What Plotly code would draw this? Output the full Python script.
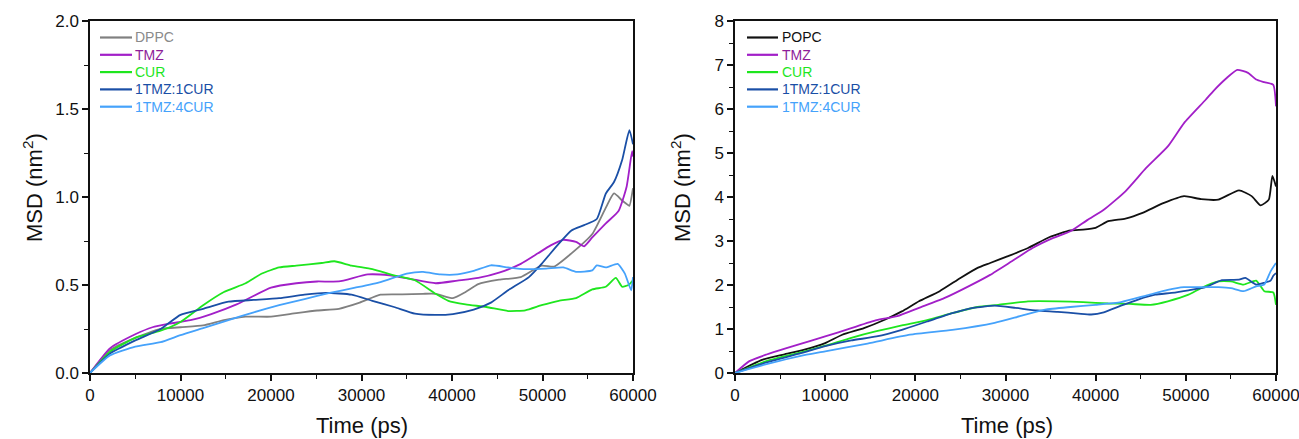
import plotly.graph_objects as go

# ---- Left panel: DPPC membrane systems ----
dppc_t = [0, 2200, 5000, 7800, 10000, 12500, 14800, 17200, 20000, 22800, 25100, 27500,
          29800, 32100, 34500, 36800, 38200, 40100, 41500, 42900, 45200, 47600, 49900,
          51300, 53200, 55500, 57000, 57900, 58800, 59300, 59600, 60000]
dppc_msd = [0, 0.13, 0.20, 0.25, 0.26, 0.27, 0.30, 0.32, 0.32, 0.34, 0.355, 0.365,
            0.40, 0.445, 0.447, 0.45, 0.45, 0.425, 0.46, 0.505, 0.53, 0.545, 0.61,
            0.605, 0.68, 0.79, 0.94, 1.02, 0.98, 0.96, 0.95, 1.05]

tmz_l_t = [0, 2200, 5000, 6900, 8750, 11100, 13400, 16200, 20000, 22800, 25100, 27500,
           30700, 33100, 35400, 38200, 40600, 42900, 45200, 47600, 49500, 50900, 52300,
           53700, 54600, 55500, 57000, 58400, 59300, 59900, 60000]
tmz_l_msd = [0, 0.14, 0.22, 0.26, 0.28, 0.30, 0.335, 0.39, 0.485, 0.51, 0.52, 0.52,
             0.56, 0.555, 0.535, 0.51, 0.525, 0.54, 0.57, 0.62, 0.68, 0.725, 0.757,
             0.745, 0.72, 0.77, 0.85, 0.92, 1.06, 1.26, 1.23]

cur_l_t = [0, 2200, 5000, 7800, 10000, 12500, 14800, 17200, 19000, 20900, 22800, 25600,
           27000, 28900, 31200, 33600, 35900, 38200, 39600, 41500, 43800, 46200, 48100,
           49900, 51800, 53700, 55500, 57000, 58100, 58800, 59500, 60000]
cur_l_msd = [0, 0.12, 0.20, 0.24, 0.29, 0.385, 0.46, 0.51, 0.565, 0.60, 0.61, 0.625,
             0.635, 0.61, 0.59, 0.555, 0.527, 0.45, 0.41, 0.39, 0.375, 0.352, 0.356,
             0.385, 0.41, 0.425, 0.475, 0.49, 0.54, 0.49, 0.50, 0.527]

c11_l_t = [0, 2200, 5000, 7800, 10000, 12500, 15300, 18100, 20900, 23700, 26100, 28900,
           31200, 33600, 35900, 38200, 40100, 42400, 44300, 46200, 48500, 49900, 51800,
           53200, 54600, 56000, 57000, 57900, 58800, 59600, 60000]
c11_l_msd = [0, 0.11, 0.185, 0.25, 0.33, 0.365, 0.405, 0.415, 0.425, 0.445, 0.455, 0.445,
             0.41, 0.375, 0.337, 0.33, 0.335, 0.36, 0.40, 0.47, 0.545, 0.62, 0.735,
             0.81, 0.84, 0.875, 1.02, 1.085, 1.21, 1.38, 1.30]

c14_l_t = [0, 2200, 5000, 7800, 10000, 12500, 15300, 18100, 20900, 23700, 26500, 29300,
           32100, 35000, 36800, 38700, 40600, 42400, 44300, 46200, 48100, 50400, 52300,
           53700, 55500, 56000, 57000, 58300, 59100, 59800, 60000]
c14_l_msd = [0, 0.10, 0.15, 0.175, 0.215, 0.255, 0.30, 0.345, 0.385, 0.42, 0.455, 0.485,
             0.517, 0.565, 0.575, 0.56, 0.56, 0.58, 0.612, 0.60, 0.59, 0.593, 0.60,
             0.575, 0.583, 0.612, 0.60, 0.62, 0.565, 0.47, 0.545]

# ---- Right panel: POPC membrane systems ----
popc_t = [0, 3000, 5400, 7700, 10000, 11900, 14300, 16600, 18500, 20400, 22700, 25000,
          26900, 28300, 30200, 32500, 34900, 37200, 38600, 40000, 41400, 43300, 45200,
          47500, 49800, 51700, 53600, 55900, 57300, 58300, 59200, 59600, 60000]
popc_msd = [0, 0.30, 0.42, 0.53, 0.68, 0.87, 1.02, 1.21, 1.40, 1.63, 1.86, 2.16,
            2.39, 2.50, 2.65, 2.84, 3.09, 3.24, 3.26, 3.30, 3.45, 3.51, 3.64,
            3.86, 4.02, 3.95, 3.94, 4.15, 4.02, 3.81, 3.94, 4.48, 4.24]

tmz_r_t = [0, 1600, 3500, 5800, 8200, 10000, 12900, 15700, 18000, 20400, 23200, 26000,
           28300, 30700, 33000, 35300, 37200, 39100, 40900, 43300, 45600, 48000, 49800,
           52200, 53100, 54500, 55700, 56900, 57800, 58700, 59700, 60000]
tmz_r_msd = [0, 0.27, 0.42, 0.57, 0.72, 0.83, 1.02, 1.20, 1.29, 1.48, 1.70, 1.98,
             2.23, 2.54, 2.84, 3.07, 3.22, 3.48, 3.71, 4.13, 4.66, 5.15, 5.68,
             6.21, 6.42, 6.70, 6.89, 6.82, 6.67, 6.61, 6.55, 6.06]

cur_r_t = [0, 3500, 7300, 10000, 12900, 15700, 18500, 21300, 24100, 26900, 29200, 32500,
           35800, 38600, 41400, 43800, 46100, 48000, 50300, 51700, 53600, 55000, 56400,
           57800, 58700, 59700, 60000]
cur_r_msd = [0, 0.27, 0.47, 0.62, 0.80, 0.95, 1.08, 1.20, 1.36, 1.50, 1.55, 1.63,
             1.63, 1.61, 1.58, 1.57, 1.55, 1.63, 1.78, 1.93, 2.08, 2.08, 2.01,
             2.10, 1.86, 1.83, 1.55]

c11_r_t = [0, 3500, 7300, 10000, 12900, 15700, 18500, 21300, 24100, 26400, 28800, 31100,
           33500, 35800, 38100, 39500, 40900, 42800, 44700, 46600, 48400, 50300, 52200,
           54000, 55900, 56600, 57800, 58700, 59400, 59700, 60000]
c11_r_msd = [0, 0.24, 0.45, 0.61, 0.74, 0.83, 0.98, 1.17, 1.36, 1.48, 1.53, 1.48,
             1.42, 1.39, 1.35, 1.33, 1.38, 1.53, 1.67, 1.78, 1.82, 1.88, 1.95,
             2.11, 2.12, 2.16, 2.01, 2.05, 2.10, 2.21, 2.27]

c14_r_t = [0, 3500, 7300, 10000, 14700, 19400, 24100, 28800, 31600, 34400, 37200, 40000,
           42800, 45600, 48000, 49800, 51700, 53600, 55000, 56400, 57800, 58700, 59400,
           60000]
c14_r_msd = [0, 0.20, 0.39, 0.49, 0.67, 0.87, 0.98, 1.14, 1.29, 1.44, 1.50, 1.55,
             1.61, 1.76, 1.89, 1.95, 1.95, 1.95, 1.93, 1.86, 1.97, 2.01, 2.31,
             2.50]

time_ticks = [0, 10000, 20000, 30000, 40000, 50000, 60000]
time_labels = ["0", "10000", "20000", "30000", "40000", "50000", "60000"]

GRAY = "#808080"
PURPLE = "#a21fc8"
GREEN = "#1ee61e"
DARKBLUE = "#1a4fa6"
LIGHTBLUE = "#45a2fb"
BLACK = "#111111"

LEGEND_TEXT = {GRAY: "#8a8a8a", PURPLE: "#8e1d99", GREEN: "#1ee61e",
               DARKBLUE: "#1a4fa6", LIGHTBLUE: "#45a2fb", BLACK: "#111111"}

left_series = [("DPPC", dppc_t, dppc_msd, GRAY),
               ("TMZ", tmz_l_t, tmz_l_msd, PURPLE),
               ("CUR", cur_l_t, cur_l_msd, GREEN),
               ("1TMZ:1CUR", c11_l_t, c11_l_msd, DARKBLUE),
               ("1TMZ:4CUR", c14_l_t, c14_l_msd, LIGHTBLUE)]
right_series = [("POPC", popc_t, popc_msd, BLACK),
                ("TMZ", tmz_r_t, tmz_r_msd, PURPLE),
                ("CUR", cur_r_t, cur_r_msd, GREEN),
                ("1TMZ:1CUR", c11_r_t, c11_r_msd, DARKBLUE),
                ("1TMZ:4CUR", c14_r_t, c14_r_msd, LIGHTBLUE)]

W, H = 1299, 439
FONT = "Liberation Sans, Arial, sans-serif"
INK = "#111111"

fig = go.Figure()
shapes = []
annotations = []


def add_panel(series, xaxis, yaxis, key_x0, key_x1, text_x):
    """Draw the curves of one panel plus its colour key (line swatch + label)."""
    for i, (name, t, y, col) in enumerate(series):
        fig.add_trace(go.Scatter(
            x=t, y=y, mode="lines", xaxis=xaxis, yaxis=yaxis, name=name,
            showlegend=False,
            line=dict(color=col, width=1.8, shape="spline", smoothing=0.5),
        ))
        row_y = 1 - (37.5 + 17.3 * i) / H
        shapes.append(dict(type="line", xref="paper", yref="paper",
                           x0=key_x0 / W, x1=key_x1 / W, y0=row_y, y1=row_y,
                           line=dict(color=col, width=2.2)))
        annotations.append(dict(xref="paper", yref="paper", x=text_x / W, y=row_y,
                                xanchor="left", yanchor="middle", showarrow=False,
                                text=name, font=dict(family=FONT, size=14,
                                                     color=LEGEND_TEXT[col])))


add_panel(left_series, "x", "y", 100, 132, 133)
add_panel(right_series, "x2", "y2", 747, 778, 780)

# axis titles, placed in paper coordinates
TITLEFONT = dict(family=FONT, size=22, color=INK)
for cx in (361.5, 1006.5):
    annotations.append(dict(xref="paper", yref="paper", x=cx / W, y=1 - 425 / H,
                            xanchor="center", yanchor="middle", showarrow=False,
                            text="Time (ps)", font=TITLEFONT))
for cx in (33, 681):
    annotations.append(dict(xref="paper", yref="paper", x=cx / W, y=1 - 188 / H,
                            xanchor="center", yanchor="middle", showarrow=False,
                            textangle=-90, text="MSD (nm<sup>2</sup>)", font=TITLEFONT))

TICKFONT = dict(family=FONT, size=17, color=INK)

xcommon = dict(range=[0, 60000], tickvals=time_ticks, ticktext=time_labels,
               ticks="outside", ticklen=6, tickwidth=1.5, tickcolor=INK,
               minor=dict(dtick=5000, ticks="outside", ticklen=4, tickwidth=1.2,
                          tickcolor=INK, showgrid=False),
               showline=True, linecolor=INK, linewidth=1.5, mirror=True,
               showgrid=False, zeroline=False, tickfont=TICKFONT, automargin=False,
               ticklabeloverflow="allow")

ycommon = dict(ticks="outside", ticklen=6, tickwidth=1.5, tickcolor=INK,
               showline=True, linecolor=INK, linewidth=1.5, mirror=True,
               showgrid=False, zeroline=False, tickfont=TICKFONT, automargin=False)

fig.update_layout(
    width=W, height=H,
    margin=dict(l=0, r=0, t=0, b=0),
    paper_bgcolor="white", plot_bgcolor="white",
    showlegend=False,
    xaxis=dict(domain=[90 / W, 633 / W], anchor="y", **xcommon),
    yaxis=dict(domain=[1 - 373 / H, 1 - 21 / H], anchor="x", range=[0, 2.0],
               tickvals=[0, 0.5, 1.0, 1.5, 2.0], ticktext=["0.0", "0.5", "1.0", "1.5", "2.0"],
               minor=dict(dtick=0.25, ticks="outside", ticklen=4, tickwidth=1.2,
                          tickcolor=INK, showgrid=False),
               **ycommon),
    xaxis2=dict(domain=[735 / W, 1276 / W], anchor="y2", **xcommon),
    yaxis2=dict(domain=[1 - 373 / H, 1 - 21 / H], anchor="x2", range=[0, 8],
                tickvals=list(range(0, 9)),
                minor=dict(dtick=0.5, ticks="outside", ticklen=4, tickwidth=1.2,
                           tickcolor=INK, showgrid=False),
                **ycommon),
    shapes=shapes,
    annotations=annotations,
)

fig.write_html("out.html")
